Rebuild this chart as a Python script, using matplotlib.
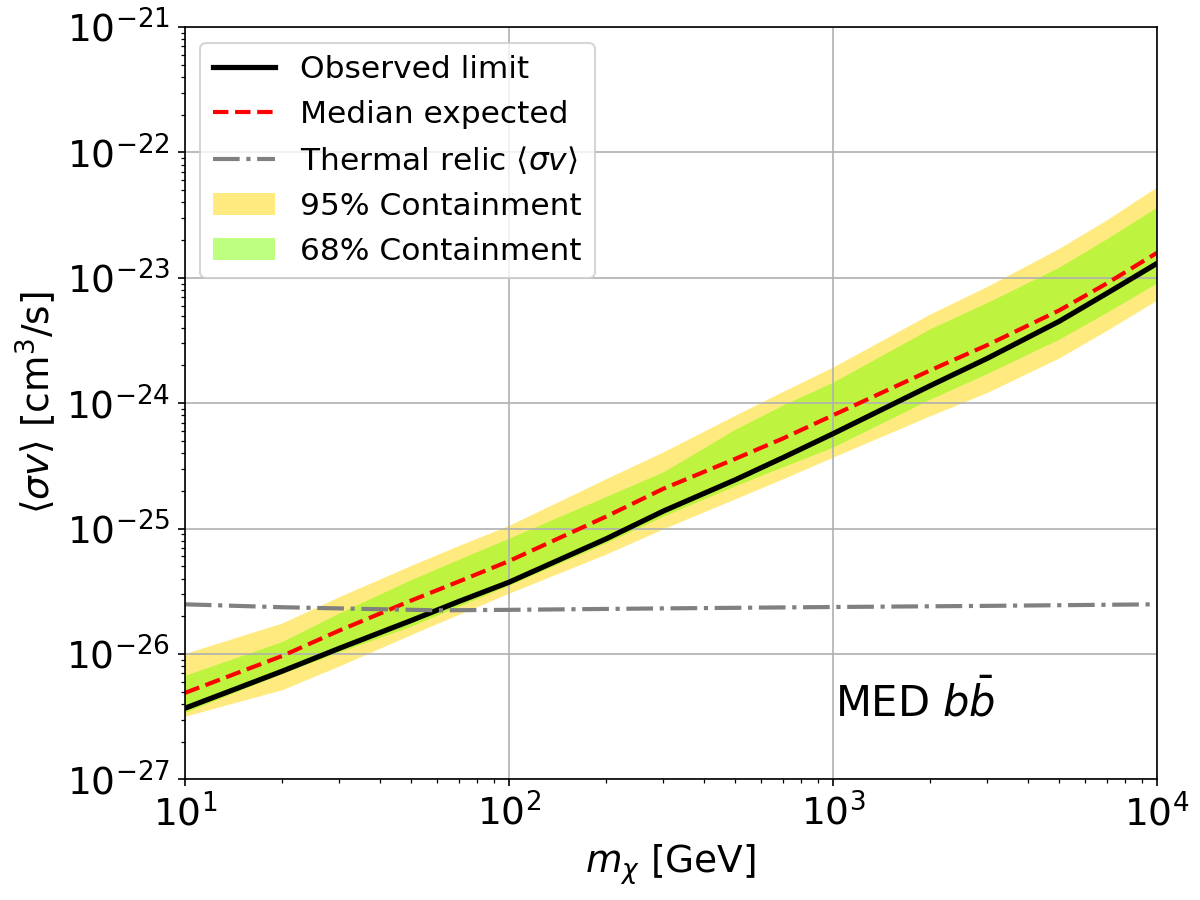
import matplotlib
matplotlib.use("Agg")
import matplotlib.pyplot as plt
import numpy as np

# dark matter mass [GeV]
mass = [10, 20, 30, 50, 70, 100, 200, 300, 500, 700, 1000, 2000, 3000, 5000, 7000, 10000]

# <sigma v> limits [cm^3/s]
observed = [3.69e-27, 7.3e-27, 1.11e-26, 1.85e-26, 2.62e-26, 3.73e-26, 8.3e-26, 1.38e-25, 2.45e-25,
            3.67e-25, 5.7e-25, 1.38e-24, 2.28e-24, 4.5e-24, 7.5e-24, 1.3e-23]
median = [4.89e-27, 9.66e-27, 1.54e-26, 2.67e-26, 3.78e-26, 5.5e-26, 1.25e-25, 2.08e-25, 3.6e-25,
          5.22e-25, 8.0e-25, 1.83e-24, 2.91e-24, 5.5e-24, 9.0e-24, 1.58e-23]
up95 = [1.01e-26, 1.77e-26, 2.87e-26, 5.10e-26, 7.33e-26, 1.06e-25, 2.51e-25, 4.10e-25, 8.04e-25,
        1.24e-24, 1.94e-24, 5.16e-24, 8.57e-24, 1.72e-23, 2.9e-23, 5.30e-23]
lo95 = [3.19e-27, 5.2e-27, 8.04e-27, 1.43e-26, 2.07e-26, 3.05e-26, 6.28e-26, 9.98e-26, 1.73e-25,
        2.49e-25, 3.71e-25, 7.96e-25, 1.22e-24, 2.3e-24, 3.8e-24, 6.64e-24]
up68 = [6.76e-27, 1.26e-26, 2.13e-26, 3.93e-26, 5.69e-26, 8.38e-26, 1.81e-25, 2.84e-25, 6.21e-25,
        9.66e-25, 1.47e-24, 3.94e-24, 6.37e-24, 1.22e-23, 2.05e-23, 3.66e-23]
lo68 = [3.43e-27, 7.01e-27, 1.04e-26, 1.67e-26, 2.41e-26, 3.53e-26, 7.74e-26, 1.26e-25, 2.20e-25,
        3.11e-25, 4.46e-25, 1.08e-24, 1.73e-24, 3.25e-24, 5.3e-24, 9.08e-24]

# thermal relic cross section
relic_mass = [10, 20, 30, 60, 100, 300, 1000, 3000, 10000]
relic = [2.49e-26, 2.36e-26, 2.31e-26, 2.23e-26, 2.25e-26, 2.31e-26, 2.37e-26, 2.42e-26, 2.49e-26]

fig = plt.figure(figsize=(8, 6), dpi=150)
ax = fig.add_axes([0.154, 0.134, 0.81, 0.836])

b95 = ax.fill_between(mass, lo95, up95, color='#FFD700', alpha=0.5, lw=0, label='95% Containment')
b68 = ax.fill_between(mass, lo68, up68, color='#7FFF00', alpha=0.5, lw=0, label='68% Containment')
l1, = ax.plot(mass, observed, 'k-', lw=2.5, label='Observed limit')
l2, = ax.plot(mass, median, 'r--', lw=2, label='Median expected')
l3, = ax.plot(relic_mass, relic, '-.', color='gray', lw=2, label=r'Thermal relic $\langle\sigma v\rangle$')

ax.set_xscale('log')
ax.set_yscale('log')
ax.set_xlim(10, 1e4)
ax.set_ylim(1e-27, 1e-21)
ax.grid(True)
ax.tick_params(labelsize=18)
ax.set_xlabel(r'$m_\chi$ [GeV]', fontsize=18)
ax.set_ylabel(r'$\langle\sigma v\rangle$ [cm$^3$/s]', fontsize=18)

ax.legend(handles=[l1, l2, l3, b95, b68], loc='upper left', fontsize=15)
ax.text(0.669, 0.084, r'MED $b\bar{b}$', transform=ax.transAxes, fontsize=20)

plt.savefig('out.png', dpi=150)
